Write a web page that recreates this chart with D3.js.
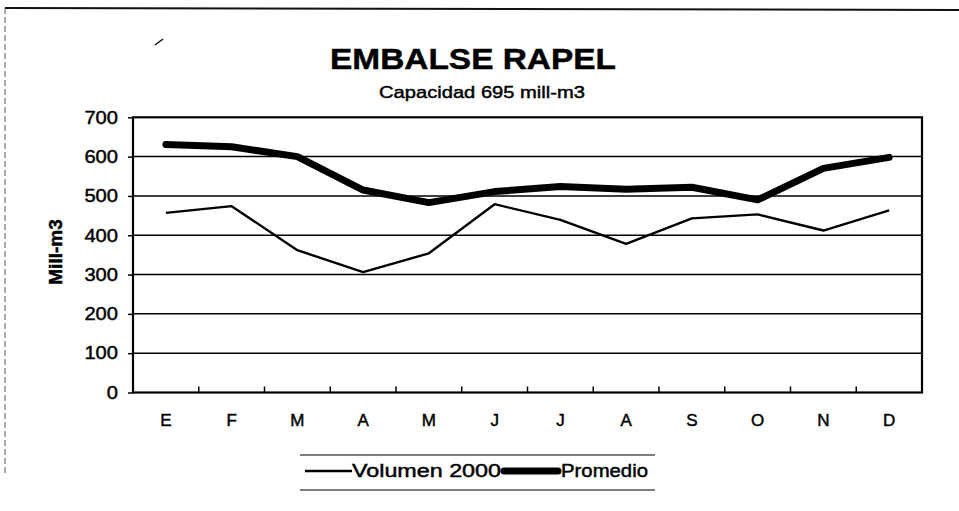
<!DOCTYPE html>
<html>
<head>
<meta charset="utf-8">
<script src="https://cdn.jsdelivr.net/npm/d3@7"></script>
<style>
  html, body { margin: 0; padding: 0; background: #fff; }
  svg { display: block; font-family: "Liberation Sans", Arial, sans-serif; }
  text { stroke: #000; stroke-width: 0.45px; fill: #000; }
</style>
</head>
<body>
<svg id="chart" width="959" height="511"></svg>
<script>
const months = ["E","F","M","A","M","J","J","A","S","O","N","D"];
const volumen2000 = [457,474,362,306,354,479,439,378,443,453,412,463];
const promedio = [631,625,600,515,483,511,524,517,522,490,570,598];
const yTicks = [0,100,200,300,400,500,600,700];

const svg = d3.select("#chart");
const plot = { left: 133, right: 922, top: 117.3, bottom: 392.5 };

// outer frame (scan borders)
svg.append("line").attr("x1", 5).attr("x2", 959).attr("y1", 8).attr("y2", 10)
  .attr("stroke", "#111").attr("stroke-width", 2);
svg.append("line").attr("x1", 5).attr("x2", 5).attr("y1", 8).attr("y2", 475)
  .attr("stroke", "#555").attr("stroke-width", 1).attr("stroke-dasharray", "6,3");
// small stray mark
svg.append("line").attr("x1", 155).attr("y1", 45).attr("x2", 163).attr("y2", 39)
  .attr("stroke", "#111").attr("stroke-width", 1.5);

const x = d3.scaleBand().domain(d3.range(months.length)).range([plot.left, plot.right]).padding(0);
const y = d3.scaleLinear().domain([0, 700]).range([plot.bottom, plot.top]);

// title
svg.append("text").attr("x", 473).attr("y", 69).attr("text-anchor", "middle")
  .attr("font-size", 30).attr("font-weight", "bold")
  .attr("textLength", 286).attr("lengthAdjust", "spacingAndGlyphs")
  .text("EMBALSE RAPEL");
svg.append("text").attr("x", 482).attr("y", 98).attr("text-anchor", "middle")
  .attr("font-size", 17)
  .attr("textLength", 206).attr("lengthAdjust", "spacingAndGlyphs")
  .text("Capacidad 695 mill-m3");

// gridlines
svg.append("g").selectAll("line").data(yTicks.filter(d => d > 0 && d < 700)).join("line")
  .attr("x1", plot.left).attr("x2", plot.right)
  .attr("y1", d => y(d)).attr("y2", d => y(d))
  .attr("stroke", "#000").attr("stroke-width", 1.5);

// y axis
const yAxis = svg.append("g").attr("transform", `translate(${plot.left},0)`)
  .call(d3.axisLeft(y).tickValues(yTicks).tickSize(5).tickPadding(10));
yAxis.select(".domain").remove();
yAxis.selectAll(".tick line").attr("stroke", "#000").attr("stroke-width", 1.5);
yAxis.selectAll(".tick text").attr("font-size", 18).attr("fill", "#000")
  .attr("font-family", "Liberation Sans, Arial, sans-serif")
  .attr("textLength", d => String(d).length * 11.2).attr("lengthAdjust", "spacingAndGlyphs");

// x axis (ticks at category boundaries, pointing inward)
const xAxisG = svg.append("g").attr("transform", `translate(0,${plot.bottom})`);
xAxisG.selectAll("line").data(d3.range(1, months.length)).join("line")
  .attr("x1", d => x(d)).attr("x2", d => x(d))
  .attr("y1", 0).attr("y2", -6)
  .attr("stroke", "#000").attr("stroke-width", 1.5);
xAxisG.selectAll("text").data(months).join("text")
  .attr("x", (d, i) => x(i) + x.bandwidth() / 2)
  .attr("y", 33)
  .attr("text-anchor", "middle").attr("font-size", 17)
  .text(d => d);

// plot frame
svg.append("rect").attr("x", plot.left).attr("y", plot.top)
  .attr("width", plot.right - plot.left).attr("height", plot.bottom - plot.top)
  .attr("fill", "none").attr("stroke", "#000").attr("stroke-width", 2.2);

// y label
svg.append("text")
  .attr("transform", `translate(62,252) rotate(-90)`)
  .attr("text-anchor", "middle").attr("font-size", 19).attr("font-weight", "bold")
  .text("Mill-m3");

// lines
const line = d3.line().x((d, i) => x(i) + x.bandwidth() / 2).y(d => y(d));
svg.append("path").datum(volumen2000).attr("d", line)
  .attr("fill", "none").attr("stroke", "#000").attr("stroke-width", 2.4)
  .attr("stroke-linejoin", "round");
svg.append("path").datum(promedio).attr("d", line)
  .attr("fill", "none").attr("stroke", "#000").attr("stroke-width", 7)
  .attr("stroke-linejoin", "round").attr("stroke-linecap", "round");

// legend
const lg = svg.append("g");
lg.append("line").attr("x1", 300).attr("x2", 655).attr("y1", 455).attr("y2", 455)
  .attr("stroke", "#000").attr("stroke-width", 1);
lg.append("line").attr("x1", 300).attr("x2", 655).attr("y1", 490).attr("y2", 490)
  .attr("stroke", "#000").attr("stroke-width", 1);
lg.append("line").attr("x1", 305).attr("x2", 352).attr("y1", 471).attr("y2", 471)
  .attr("stroke", "#000").attr("stroke-width", 2.4);
lg.append("text").attr("x", 352).attr("y", 477).attr("font-size", 18)
  .attr("textLength", 149).attr("lengthAdjust", "spacingAndGlyphs")
  .text("Volumen 2000");
lg.append("line").attr("x1", 504).attr("x2", 558).attr("y1", 471).attr("y2", 471)
  .attr("stroke", "#000").attr("stroke-width", 7).attr("stroke-linecap", "round");
lg.append("text").attr("x", 561).attr("y", 477).attr("font-size", 18)
  .attr("textLength", 87).attr("lengthAdjust", "spacingAndGlyphs")
  .text("Promedio");
</script>
</body>
</html>
